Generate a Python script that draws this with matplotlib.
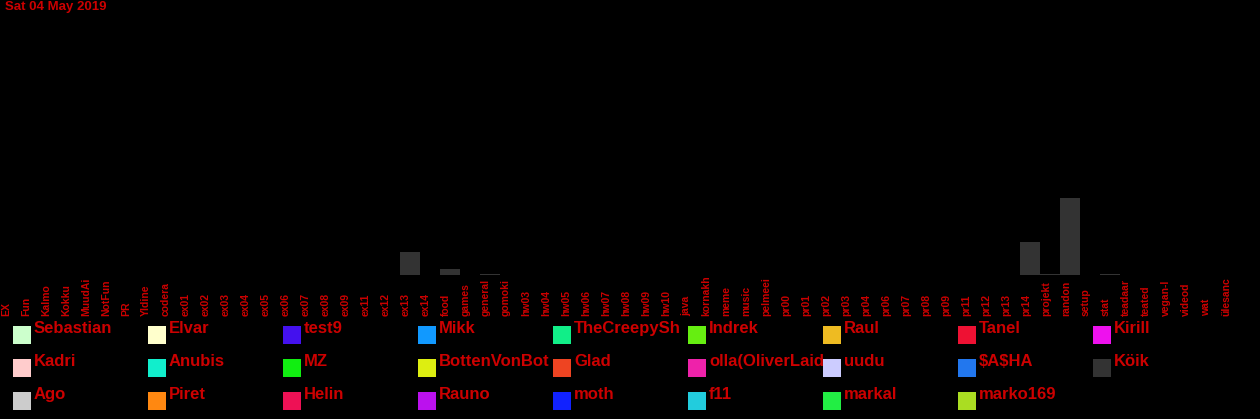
import matplotlib.pyplot as plt
import numpy as np
from matplotlib.patches import Rectangle
from matplotlib.transforms import Bbox, blended_transform_factory

title = 'Sat 04 May 2019'
channels = ['EX', 'Fun', 'Kalmo', 'Kokku', 'MuudAi', 'NotFun', 'PR', 'Yldine', 'codera',
            'ex01', 'ex02', 'ex03', 'ex04', 'ex05', 'ex06', 'ex07', 'ex08', 'ex09', 'ex11',
            'ex12', 'ex13', 'ex14', 'food', 'games', 'general', 'gomoki', 'hw03', 'hw04',
            'hw05', 'hw06', 'hw07', 'hw08', 'hw09', 'hw10', 'java', 'kornakh', 'meme',
            'music', 'pelmeei', 'pr00', 'pr01', 'pr02', 'pr03', 'pr04', 'pr06', 'pr07',
            'pr08', 'pr09', 'pr11', 'pr12', 'pr13', 'pr14', 'projekt', 'randon', 'setup',
            'stat', 'teadaar', 'teated', 'vegan-l', 'videod', 'wat', 'ülesanc']

users = ['Sebastian', 'Elvar', 'test9', 'Mikk', 'TheCreepySh', 'Indrek', 'Raul', 'Tanel', 'Kirill',
         'Kadri', 'Anubis', 'MZ', 'BottenVonBot', 'Glad', 'olla(OliverLaid', 'uudu', '$A$HA', 'Köik',
         'Ago', 'Piret', 'Helin', 'Rauno', 'moth', 'f11', 'markal', 'marko169']
user_colors = ['#ccffcc', '#ffffcc', '#4411ee', '#1199ff', '#11ee88', '#66ee11', '#eebb22', '#ee1133', '#ee11ee',
               '#ffcccc', '#11eecc', '#11ee11', '#ddee11', '#ee4422', '#ee22aa', '#ccccff', '#2277ee', '#333333',
               '#cccccc', '#ff8811', '#ee1155', '#bb11ee', '#1122ff', '#22ccdd', '#22ee44', '#aadd22']

# messages per channel; only "Köik" has non-zero counts on this day
koik = {'ex13': 23, 'food': 6, 'general': 1, 'pr14': 33, 'projekt': 1, 'randon': 77, 'stat': 1}

red = '#cc0000'
W, H = 1260, 419
fig = plt.figure(figsize=(W / 100, H / 100), dpi=100, facecolor='black')
ax = fig.add_axes([0, (H - 275) / H, 1240 / W, 255 / H])
ax.set_facecolor('black')

x = np.arange(len(channels))
bottom = np.zeros(len(channels))
for name, col in zip(users, user_colors):
    vals = np.array([koik.get(c, 0) if name == 'Köik' else 0 for c in channels], dtype=float)
    if vals.any():
        ax.bar(x, vals, width=1.0, bottom=bottom, color=col, edgecolor='none')
    bottom += vals

ax.set_xlim(-0.5, len(channels) - 0.5)
ax.set_ylim(0, 255)
ax.set_xticks([])
ax.set_yticks([])
for s in ax.spines.values():
    s.set_visible(False)

# channel labels: read bottom to top, starting just above the legend, clipped at the top
tr = blended_transform_factory(ax.transData, fig.transFigure)
for i, name in enumerate(channels):
    t = ax.text(i - 0.2, 1 - 316 / H, name, transform=tr, rotation=90, color=red,
                fontsize=7.5, fontweight='bold', family='Liberation Sans',
                ha='center', va='bottom', parse_math=False)
    t.set_clip_box(Bbox.from_extents(0, H - 318, W, H - 277))
    t.set_clip_on(True)

fig.text(5 / W, 1 - 1 / H, title, color=red, fontsize=9.5, fontweight='bold',
         family='Liberation Sans', va='top', ha='left')

# legend drawn by hand: 9 columns, 3 rows
for i, (name, col) in enumerate(zip(users, user_colors)):
    r, c = divmod(i, 9)
    x0 = 13 + 135 * c
    y0 = 326 + 33 * r
    t = fig.text((x0 + 21) / W, 1 - (y0 - 5) / H, name, color=red, fontsize=12,
                 fontweight='bold', family='Liberation Sans', va='top', ha='left',
                 parse_math=False)
    t.set_clip_box(Bbox.from_extents(x0 + 21, 0, x0 + 135, H))
    t.set_clip_on(True)
    fig.patches.append(Rectangle((x0 / W, 1 - (y0 + 18) / H), 18 / W, 18 / H,
                                 transform=fig.transFigure, facecolor=col,
                                 edgecolor='none', zorder=5))

fig.savefig('out.png', dpi=100, facecolor='black')
